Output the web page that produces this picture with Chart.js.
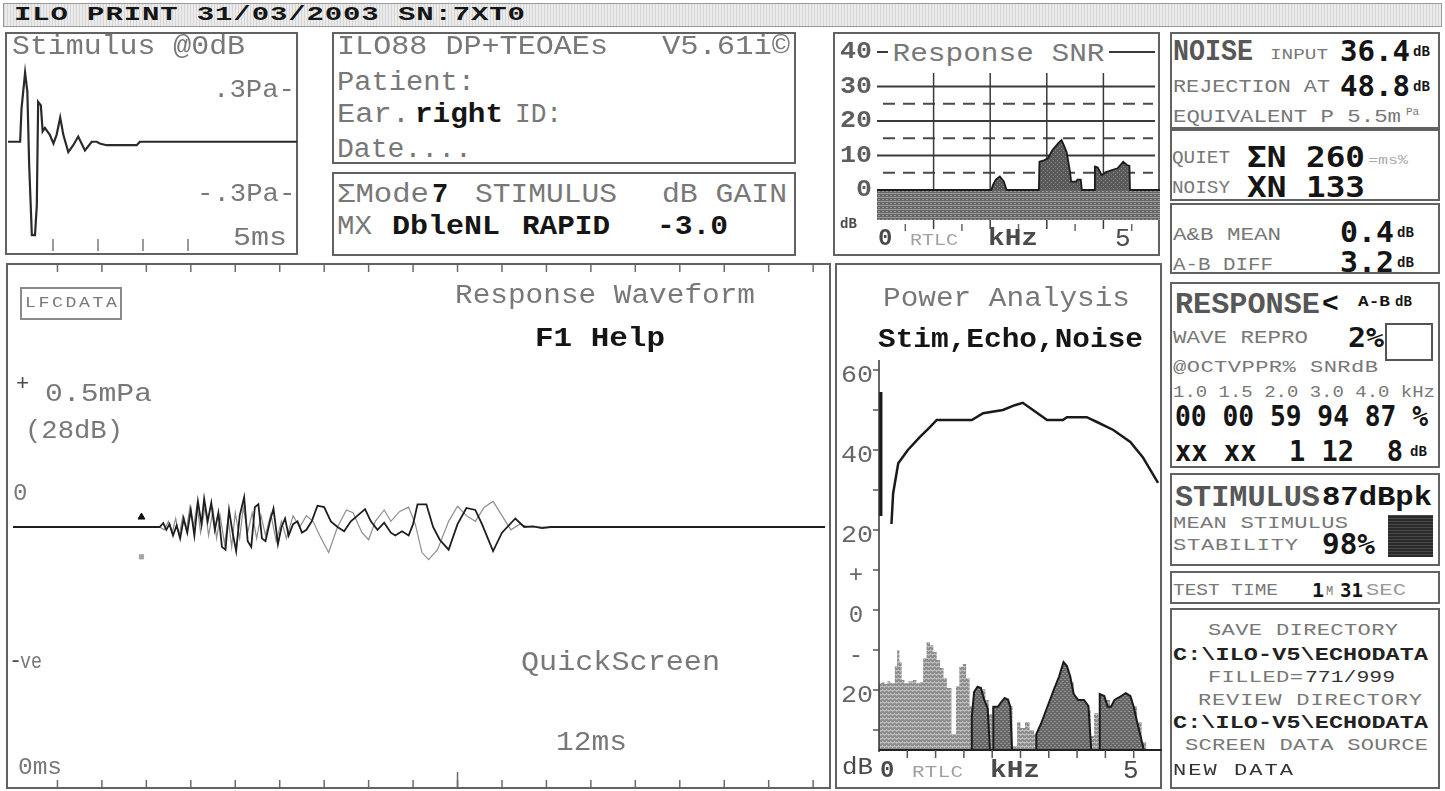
<!DOCTYPE html>
<html><head><meta charset="utf-8"><title>ILO88 TEOAE print</title>
<script src="https://cdn.jsdelivr.net/npm/chart.js@4.4.1/dist/chart.umd.min.js"></script>
<style>
html,body{margin:0;padding:0;background:#fff;}
#page{position:relative;width:1445px;height:791px;overflow:hidden;background:#fff;}
.box{position:absolute;border:2px solid #626262;box-sizing:border-box;}
.t{position:absolute;white-space:pre;line-height:1;transform-origin:0 50%;}
canvas{position:absolute;}
</style></head>
<body><div id="page"></div>
<script>
// ---------- stimulus waveform (ms, Pa) ----------
const stimWave = [[0,0],[0.27,0],[0.30,0.19],[0.38,0.40],[0.43,0.29],[0.47,-0.13],[0.53,-0.54],[0.60,-0.54],
  [0.64,-0.37],[0.67,0.23],[0.73,0.21],[0.77,0.06],[0.82,0.08],[0.93,0.04],[1.01,-0.01],[1.08,0.04],[1.16,0.14],
  [1.23,0.04],[1.34,-0.06],[1.45,-0.02],[1.56,0.03],[1.71,-0.05],[1.86,0],[1.97,0],[2.04,-0.01],[2.19,-0.02],
  [2.34,-0.02],[2.64,-0.02],[2.86,-0.02],[2.93,0],[6.5,0]];
const stimTickValues = [0.3, -0.3];
const stimTickLabels = ['.3Pa-', '-.3Pa-'];
const stimTimeTicksMs = [1, 2, 3, 4];

// ---------- response waveform, buffers A and B (ms, mPa) ----------
const traceA = [[0,0],[3.30,0],[3.38,0.014],[3.45,-0.01],[3.52,0.01],[3.60,-0.03],[3.68,0.005],[3.76,-0.04],
  [3.84,0.03],[3.92,-0.02],[4.00,0.06],[4.08,-0.03],[4.16,0.09],[4.24,0.01],[4.30,0.10],[4.38,0.02],[4.46,0.085],
  [4.54,-0.01],[4.62,0.05],[4.70,-0.07],[4.78,-0.08],[4.86,0.06],[4.94,-0.02],[5.02,-0.085],[5.10,0.04],
  [5.20,0.105],[5.28,-0.05],[5.36,-0.07],[5.44,0.07],[5.52,0.08],[5.60,-0.04],[5.68,-0.05],[5.78,0.02],
  [5.86,0.065],[5.96,-0.06],[6.04,0],[6.12,0.03],[6.20,-0.03],[6.30,0.01],[6.40,0.02],[6.50,-0.02],[6.60,-0.01],
  [6.72,0.02],[6.85,0.075],[7.00,0.07],[7.15,0.02],[7.30,0],[7.45,-0.015],[7.60,0.02],[7.75,0.04],[7.92,0.063],
  [8.05,0.02],[8.20,-0.01],[8.35,0.015],[8.50,-0.02],[8.60,-0.03],[8.75,-0.015],[8.90,-0.03],[9.00,0.01],
  [9.10,0.08],[9.30,0.08],[9.45,0],[9.60,-0.045],[9.80,-0.08],[10.00,0.01],[10.20,0.067],[10.40,0.06],
  [10.55,0.01],[10.80,-0.085],[11.00,-0.02],[11.30,0.03],[11.50,0],[11.70,0.002],[11.90,-0.004],[12.10,0],[18.3,0]];
const traceB = [[0,0],[3.30,0],[3.40,-0.01],[3.50,0.02],[3.58,-0.02],[3.66,0.03],[3.74,-0.03],[3.82,0.04],
  [3.90,-0.01],[3.98,0.07],[4.06,0],[4.14,0.08],[4.22,-0.02],[4.32,0.07],[4.40,-0.03],[4.50,0.06],[4.58,-0.04],
  [4.66,0.04],[4.76,-0.06],[4.84,0.03],[4.92,-0.07],[5.00,0.05],[5.10,-0.04],[5.18,0.07],[5.28,-0.02],
  [5.38,0.05],[5.48,-0.04],[5.58,0.04],[5.68,-0.03],[5.80,0.045],[5.92,-0.05],[6.04,0.02],[6.15,-0.04],
  [6.30,0.04],[6.45,0],[6.60,0.04],[6.75,0.02],[6.90,-0.03],[7.10,-0.09],[7.30,0],[7.50,0.06],[7.65,0.05],
  [7.85,-0.02],[8.00,-0.045],[8.15,0.02],[8.35,0.06],[8.50,0.02],[8.70,0.055],[8.90,0.07],[9.05,0.01],
  [9.20,-0.09],[9.35,-0.115],[9.55,-0.08],[9.80,0.02],[10.00,0.073],[10.20,0.04],[10.40,0.02],[10.60,0.07],
  [10.80,0.09],[11.00,0.04],[11.20,-0.01],[11.40,0.01],[11.60,0],[11.90,0],[18.3,0]];
const bufferMarks = [[2.89, 0.035], [2.89, -0.105]];
const respTimeTicksMs = [1,2,3,4,5,6,7,8,9,10,11,12,13,14,15,16,17,18];
const respScaleValues = [0.5, -0.5];
const respScaleLabels = ['+', '-'];

// ---------- response SNR by frequency (kHz, dB) ----------
const snrCurve = [[0,0],[2.02,0],[2.05,1.5],[2.10,3],[2.17,3.9],[2.24,2.5],[2.29,0],[2.86,0],[2.87,8.2],
  [2.95,8.6],[3.02,9.2],[3.10,11.6],[3.20,13.5],[3.26,14.5],[3.30,13],[3.35,11],[3.41,5.3],[3.43,2.4],
  [3.52,2.4],[3.54,3],[3.60,3],[3.62,0],[3.84,0],[3.85,6.8],[3.90,6.5],[3.97,4.3],[4.05,5.2],[4.15,5.8],
  [4.25,6.3],[4.35,8.2],[4.42,7.2],[4.46,7],[4.47,0],[5,0]];
const snrFloor = [[0,-8.7],[5,-8.7]];
const snrTickValues = [40, 30, 20, 10, 0];
const snrTickLabels = ['40', '30', '20', '10', '0'];
const snrSolidGrid = [10, 20, 30, 40];
const snrDashedGrid = [5, 15, 25];
const snrFreqGrid = [1, 2, 3, 4];
const halfKHzTicks = [0.5, 1.5, 2.5, 3.5, 4.5];

// ---------- power analysis: stimulus, echo and noise spectra (kHz, dB) ----------
const stimSpectrum = [[0.22,21.5],[0.25,29.2],[0.34,36.7],[0.51,40],[0.72,43.2],[0.90,45.7],[1.02,47.5],
  [1.64,47.5],[1.84,49.2],[2.19,50],[2.40,51.2],[2.54,51.8],[2.67,50.5],[2.97,47.5],[3.25,47.5],[3.32,48.2],
  [3.67,48.2],[3.85,47],[4.14,45],[4.44,42],[4.66,38.2],[4.93,31.8]];
const stimLowBand = [[0.03,54.5],[0.03,23.5]];
const echoSpectrum = [[0,-35],[1.64,-35],[1.64,-26.7],[1.68,-20.5],[1.74,-19.2],[1.80,-19.5],[1.86,-22.5],
  [1.92,-24.6],[1.96,-35],[2.02,-35],[2.02,-24.2],[2.10,-24.2],[2.16,-23],[2.22,-22],[2.28,-22.5],[2.32,-24.2],
  [2.35,-35],[2.78,-35],[2.78,-31],[2.86,-28.5],[2.94,-25.5],[3.02,-22.5],[3.10,-19.5],[3.18,-16.7],[3.26,-13],
  [3.32,-14],[3.38,-16.7],[3.44,-21],[3.52,-22.5],[3.62,-22.5],[3.70,-24],[3.75,-35],[3.90,-35],[3.90,-21],
  [3.98,-21.5],[4.04,-24.2],[4.10,-24.2],[4.16,-22.5],[4.28,-21.5],[4.36,-20.8],[4.44,-21.5],[4.50,-24.2],
  [4.56,-28],[4.62,-31.5],[4.68,-35],[5,-35]];
const noiseSpectrum = [[0,-18.3],[0.05,-18],[0.10,-18.5],[0.15,-17.8],[0.20,-18.3],[0.28,-14],[0.32,-10],
  [0.36,-13],[0.40,-17.5],[0.45,-18.3],[0.52,-17.8],[0.60,-17.5],[0.66,-18.3],[0.72,-18],[0.78,-12],[0.84,-8],
  [0.90,-8.8],[0.96,-10.5],[1.02,-12.5],[1.08,-14.5],[1.14,-17],[1.20,-19.5],[1.28,-31],[1.36,-19],[1.42,-14.2],
  [1.48,-13.5],[1.54,-17],[1.60,-24],[1.66,-20.5],[1.74,-19.2],[1.82,-19.8],[1.88,-22.5],[1.94,-26],[2.00,-24.5],
  [2.06,-24.5],[2.14,-23],[2.22,-22],[2.30,-24],[2.36,-34],[2.44,-28],[2.50,-29.5],[2.58,-28],[2.66,-30],
  [2.74,-31],[2.80,-30],[2.88,-28.5],[2.96,-25.5],[3.04,-23],[3.12,-21],[3.20,-18],[3.28,-15.5],[3.36,-18],
  [3.44,-22.5],[3.52,-24.5],[3.60,-23],[3.68,-25],[3.74,-31.5],[3.80,-25.8],[3.88,-27],[3.92,-22],[4.00,-22.5],
  [4.08,-24.5],[4.16,-23.5],[4.24,-22.5],[4.32,-22],[4.40,-22],[4.48,-24],[4.56,-28],[4.64,-33],[4.72,-35],[5,-35]];
const powerTickValues = [60, 40, 20, 10, 0, -10, -20];
const powerTickLabels = ['60', '40', '20', '+', '0', '-', '20'];
const powerMinorTicks = [60, 50, 40, 30, 20, 10, 0, -10, -20, -30];
const freqTicksKHz = [0.5, 1, 1.5, 2, 2.5, 3, 3.5, 4, 4.5];

// ---------- octave band results ----------
const octaveKHz = ['1.0', '1.5', '2.0', '3.0', '4.0'];
const bandReproPct = ['00', '00', '59', '94', '87'];
const bandSnrDb = ['xx', 'xx', '1', '12', '8'];

// ---------- page helpers ----------
const page = document.getElementById('page');
const TXT = "'Liberation Mono','DejaVu Sans Mono',monospace";
const NUM = "'DejaVu Sans Mono','Liberation Mono',monospace";
const GREY = '#787878', DARK = '#4a4a4a', INK = '#151515';
const xy = pts => pts.map(p => ({x: p[0], y: p[1]}));

function box(l, t, r, b, o = {}) {
  const d = document.createElement('div');
  d.className = 'box';
  Object.assign(d.style, {left: l + 'px', top: t + 'px', width: (r - l) + 'px', height: (b - t) + 'px'});
  if (o.bw !== undefined) d.style.borderWidth = o.bw + 'px';
  if (o.bc) d.style.borderColor = o.bc;
  if (o.bg) d.style.background = o.bg;
  page.appendChild(d);
  return d;
}

// text placed by its left edge (or right / centre) and vertical centre; widened to a given extent
function T(x, y, s, o = {}) {
  const el = document.createElement('div');
  el.className = 't';
  el.textContent = s;
  el.style.fontFamily = o.font || (o.num ? NUM : TXT);
  el.style.fontSize = (o.size || 26) + 'px';
  el.style.fontWeight = o.bold ? '700' : '400';
  el.style.color = o.color || GREY;
  const pad = o.bg ? 4 : 0;
  if (o.bg) { el.style.background = o.bg; el.style.padding = '2px ' + pad + 'px'; }
  page.appendChild(el);
  const n = [...s].length;
  const w0 = el.getBoundingClientRect().width - 2 * pad;
  let w = w0, sx = 1;
  if (o.w) {
    w = o.w;
    sx = Math.min(w / w0, o.maxScale || 1.3);
    if (n > 1) {
      const ls = (w / sx - w0) / (n - 1);
      el.style.letterSpacing = ls + 'px';
      el.style.marginRight = (-ls) + 'px';
    }
  }
  el.style.transform = 'translateY(-50%) scaleX(' + sx + ')';
  let left = x - pad * sx;
  if (o.align === 'right') left = x - w;
  else if (o.align === 'center') left = x - w / 2;
  el.style.left = left + 'px';
  el.style.top = y + 'px';
  return el;
}

function pattern(bg, fg, w, h, cells) {
  const c = document.createElement('canvas');
  c.width = w; c.height = h;
  const g = c.getContext('2d');
  g.fillStyle = bg; g.fillRect(0, 0, w, h);
  g.fillStyle = fg;
  cells.forEach(([a, b, cw, ch]) => g.fillRect(a, b, cw, ch));
  return g.createPattern(c, 'repeat');
}

// grid lines and tick marks drawn through each chart's own scales
function decor(cfg) {
  const draw = (chart, list) => {
    const ctx = chart.ctx, a = chart.chartArea;
    (list || []).forEach(g => {
      const sc = chart.scales[g.axis];
      ctx.save();
      ctx.strokeStyle = g.color; ctx.lineWidth = g.width; ctx.setLineDash(g.dash || []);
      g.values.forEach(v => {
        const p = sc.getPixelForValue(v);
        ctx.beginPath();
        if (g.axis === 'y') { ctx.moveTo(g.from ?? a.left, p); ctx.lineTo(g.to ?? a.right, p); }
        else { ctx.moveTo(p, g.from ?? a.top); ctx.lineTo(p, g.to ?? a.bottom); }
        ctx.stroke();
      });
      ctx.restore();
    });
  };
  return {
    id: 'decor',
    beforeDatasetsDraw(chart) { draw(chart, cfg.grid); },
    afterDatasetsDraw(chart) { draw(chart, cfg.marks); }
  };
}

function makeChart(l, t, w, h, pad, scales, datasets, deco) {
  const c = document.createElement('canvas');
  c.width = w; c.height = h;
  Object.assign(c.style, {left: l + 'px', top: t + 'px', width: w + 'px', height: h + 'px'});
  page.appendChild(c);
  return new Chart(c, {
    type: 'line',
    data: {datasets},
    options: {
      responsive: false, animation: false, devicePixelRatio: 1, events: [],
      layout: {padding: pad},
      plugins: {legend: {display: false}, tooltip: {enabled: false}},
      scales: {
        x: Object.assign({type: 'linear', display: false}, scales.x),
        y: Object.assign({type: 'linear', display: false}, scales.y)
      },
      elements: {point: {radius: 0}, line: {tension: 0}}
    },
    plugins: [decor(deco)]
  });
}

// ---------- frames ----------
box(3, 3, 1442, 27, {bw: 1, bc: '#9a9a9a',
  bg: 'repeating-linear-gradient(90deg,#d6d6d6 0 1px,#ebebeb 1px 3px)'});
box(5, 32, 298, 255);
box(332, 32, 796, 164);
box(332, 172, 796, 256);
box(833, 32, 1160, 256);
box(1170, 32, 1440, 129);
box(1170, 129, 1440, 201);
box(1170, 203, 1440, 274);
box(1170, 282, 1440, 468);
box(1170, 473, 1440, 566);
box(1170, 571, 1440, 604);
box(1170, 608, 1440, 789);
box(6, 263, 831, 789);
box(835, 263, 1162, 789);

// ---------- fills ----------
const patBand = pattern('#666', '#9a9a9a', 4, 4, [[0, 1, 4, 1], [1, 3, 2, 1]]);
const patSnr = pattern('#595959', '#878787', 4, 4, [[0, 0, 1, 1], [2, 2, 1, 1]]);
const patEcho = pattern('#666', '#939393', 4, 4, [[0, 0, 2, 1], [2, 2, 2, 1]]);
const patNoise = pattern('#8e8e8e', '#bcbcbc', 4, 4, [[0, 0, 1, 1], [2, 2, 1, 1], [0, 3, 4, 1]]);

// ---------- stimulus ----------
const stim = makeChart(8, 32, 289, 222, {left: 0, right: 0, top: 6, bottom: 8.5},
  {x: {min: 0, max: 289 / 45}, y: {min: -0.6, max: 0.6}},
  [{data: xy(stimWave), borderColor: '#2a2a2a', borderWidth: 2.2}],
  {marks: [{axis: 'x', values: stimTimeTicksMs, from: 219, to: 207, color: '#7a7a7a', width: 1.5}]});

// ---------- response SNR ----------
const snr = makeChart(833, 32, 327, 224, {left: 44, right: 0, top: 20, bottom: 31.5},
  {x: {min: 0, max: 5}, y: {min: -10, max: 40}},
  [{data: xy(snrCurve), borderColor: '#1c1c1c', borderWidth: 1.8, fill: 'origin', backgroundColor: patSnr},
   {data: xy(snrFloor), borderColor: 'rgba(0,0,0,0)', borderWidth: 0, fill: {value: 0}, backgroundColor: patBand}],
  {grid: [
    {axis: 'y', values: snrSolidGrid, color: '#3a3a3a', width: 2, to: 322},
    {axis: 'y', values: snrDashedGrid, color: '#4a4a4a', width: 2, dash: [12, 8], from: 50, to: 320},
    {axis: 'x', values: snrFreqGrid, from: 41, to: 197, color: '#3a3a3a', width: 1.5}],
   marks: [{axis: 'x', values: halfKHzTicks, from: 192, to: 199, color: '#666', width: 1.5}]});

// ---------- power analysis ----------
const power = makeChart(836, 263, 326, 525, {left: 43, right: 0, top: 97, bottom: 38},
  {x: {min: 0, max: 5}, y: {min: -35, max: 62.5}},
  [{data: xy(stimLowBand), borderColor: '#1a1a1a', borderWidth: 3.5},
   {data: xy(stimSpectrum), borderColor: '#1a1a1a', borderWidth: 2.5},
   {data: xy(echoSpectrum), borderColor: '#1a1a1a', borderWidth: 2, fill: 'start', backgroundColor: patEcho},
   {data: xy(noiseSpectrum), stepped: 'before', borderColor: 'rgba(0,0,0,0)', borderWidth: 0,
    fill: 'start', backgroundColor: patNoise}],
  {marks: [
    {axis: 'x', values: [0], from: 97, to: 489, color: '#333', width: 1.5},
    {axis: 'y', values: [-35], from: 43, to: 326, color: '#222', width: 2},
    {axis: 'y', values: powerMinorTicks, from: 37, to: 43, color: '#555', width: 1.5},
    {axis: 'x', values: freqTicksKHz, from: 487, to: 495, color: '#555', width: 1.5}]});

// ---------- response waveform ----------
const resp = makeChart(8, 263, 822, 525, {left: 0, right: 0, top: 8.4, bottom: 5.4},
  {x: {min: 0, max: 822 / 45}, y: {min: -0.9, max: 0.9}},
  [{data: xy([bufferMarks[0]]), showLine: false, pointRadius: 4, pointStyle: 'triangle',
    backgroundColor: '#111', borderColor: '#111'},
   {data: xy([bufferMarks[1]]), showLine: false, pointRadius: 3, pointStyle: 'rect',
    backgroundColor: '#a5a5a5', borderColor: '#a5a5a5'},
   {data: xy(traceA), borderColor: '#1e1e1e', borderWidth: 1.8},
   {data: xy(traceB), borderColor: '#8e8e8e', borderWidth: 1.2}],
  {marks: [
    {axis: 'x', values: respTimeTicksMs, from: 2, to: 9, color: '#6a6a6a', width: 1.5},
    {axis: 'x', values: respTimeTicksMs, from: 524, to: 517, color: '#6a6a6a', width: 1.5},
    {axis: 'x', values: [10], from: 524, to: 509, color: '#6a6a6a', width: 1.5}]});

// ---------- header ----------
T(14, 15, 'ILO PRINT 31/03/2003 SN:7XT0', {w: 511, size: 20, bold: true, color: INK, maxScale: 1.45});

// ---------- stimulus panel text ----------
T(12, 47, 'Stimulus @0dB', {w: 233, size: 27});
stimTickValues.forEach((v, i) => T(295, 32 + stim.scales.y.getPixelForValue(v), stimTickLabels[i],
  {w: stimTickLabels[i].length * 16.4, size: 26, align: 'right'}));
T(233, 238, '5ms', {w: 54, size: 26});

// ---------- identification panels ----------
T(337, 47, 'ILO88 DP+TEOAEs', {w: 271, size: 27});
T(662, 47, 'V5.61i©', {w: 128, size: 27});
T(337, 83, 'Patient:', {w: 138, size: 27});
T(337, 115, 'Ear.', {w: 73, size: 27});
T(415, 115, 'right', {w: 88, size: 27, bold: true, color: INK});
T(515, 115, 'ID:', {w: 47, size: 27});
T(337, 150, 'Date....', {w: 135, size: 27});
T(337, 195, 'ΣMode', {w: 92, size: 27});
T(432, 195, '7', {size: 27, bold: true, color: INK});
T(475, 195, 'STIMULUS', {w: 142, size: 27});
T(662, 195, 'dB GAIN', {w: 125, size: 27});
T(337, 227, 'MX', {w: 35, size: 27});
T(392, 227, 'DbleNL', {w: 108, size: 27, bold: true, color: INK});
T(522, 227, 'RAPID', {w: 88, size: 27, bold: true, color: INK});
T(657, 227, '-3.0', {w: 71, size: 27, bold: true, color: INK});

// ---------- SNR panel text ----------
snrTickValues.forEach((v, i) => T(872, 32 + snr.scales.y.getPixelForValue(v), snrTickLabels[i],
  {w: snrTickLabels[i].length * 16, size: 24, bold: true, color: '#5e5e5e', align: 'right'}));
T(893, 54, 'Response SNR', {w: 212, size: 26, bg: '#fff'});
T(840, 224, 'dB', {size: 14, bold: true, color: DARK});
T(878, 239, '0', {size: 24, bold: true, color: DARK});
T(910, 241, 'RTLC', {w: 48, size: 16, color: '#a0a0a0'});
T(988, 239, 'kHz', {w: 50, size: 24, bold: true, color: DARK});
T(1115, 239, '5', {size: 26, color: DARK});

// ---------- response waveform text ----------
box(20, 287, 122, 320, {bw: 2, bc: '#8a8a8a'});
T(25, 303, 'LFCDATA', {w: 92, size: 14});
T(455, 296, 'Response Waveform', {w: 300, size: 27});
T(535, 339, 'F1 Help', {w: 130, size: 27, bold: true, color: INK});
respScaleValues.forEach((v, i) => T(i ? 9 : 16, 263 + resp.scales.y.getPixelForValue(v) - (i ? 7 : 0),
  respScaleLabels[i], {size: 22, color: DARK}));
T(45, 394, '0.5mPa', {w: 107, size: 26});
T(25, 431, '(28dB)', {w: 98, size: 26});
T(13, 494, '0', {size: 24});
T(20, 663, 've', {w: 22, size: 22});
T(521, 663, 'QuickScreen', {w: 199, size: 27});
T(556, 743, '12ms', {w: 71, size: 27});
T(18, 768, '0ms', {w: 44, size: 24});

// ---------- power panel text ----------
T(883, 299, 'Power Analysis', {w: 247, size: 27});
T(878, 340, 'Stim,Echo,Noise', {w: 265, size: 27, bold: true, color: INK});
powerTickValues.forEach((v, i) => {
  const s = powerTickLabels[i], y = 263 + power.scales.y.getPixelForValue(v) + 6;
  if (s.length > 1) T(873, y, s, {w: 32, size: 24, color: '#666', align: 'right'});
  else T(856, y, s, {size: 24, color: '#666', align: 'center'});
});
T(842, 768, 'dB', {w: 31, size: 24, color: DARK});
T(880, 771, '0', {size: 24, bold: true, color: DARK});
T(912, 773, 'RTLC', {w: 51, size: 16, color: '#a0a0a0'});
T(990, 771, 'kHz', {w: 50, size: 24, bold: true, color: DARK});
T(1123, 771, '5', {size: 26, color: DARK});

// ---------- right column ----------
T(1173, 52, 'NOISE', {w: 80, size: 30, bold: true, color: '#575757'});
T(1270, 55, 'INPUT', {w: 58, size: 15});
T(1340, 52, '36.4', {w: 70, size: 28, bold: true, num: true, color: INK});
T(1413, 52, 'dB', {size: 14, bold: true, color: INK});
T(1173, 87, 'REJECTION AT', {w: 157, size: 18});
T(1340, 87, '48.8', {w: 70, size: 28, bold: true, num: true, color: INK});
T(1413, 87, 'dB', {size: 14, bold: true, color: INK});
T(1173, 117, 'EQUIVALENT P 5.5m', {w: 228, size: 18});
T(1406, 112, 'Pa', {size: 11});

T(1172, 158, 'QUIET', {w: 58, size: 18});
T(1247, 158, 'ΣN 260', {w: 118, size: 28, bold: true, num: true, color: INK});
T(1368, 160, '=ms%', {w: 40, size: 13, color: '#aaa'});
T(1172, 188, 'NOISY', {w: 58, size: 18});
T(1247, 188, 'XN 133', {w: 118, size: 28, bold: true, num: true, color: INK});

T(1173, 235, 'A&B MEAN', {w: 108, size: 18});
T(1340, 233, '0.4', {w: 54, size: 28, bold: true, num: true, color: INK});
T(1397, 233, 'dB', {size: 14, bold: true, color: INK});
T(1173, 265, 'A-B DIFF', {w: 100, size: 18});
T(1340, 263, '3.2', {w: 54, size: 28, bold: true, num: true, color: INK});
T(1397, 263, 'dB', {size: 14, bold: true, color: INK});

T(1175, 305, 'RESPONSE', {w: 145, size: 30, bold: true, color: '#575757'});
T(1322, 305, '<', {size: 28, bold: true, color: INK});
T(1358, 302, 'A-B', {w: 32, size: 14, bold: true, color: INK});
T(1395, 302, 'dB', {size: 14, bold: true, color: INK});
T(1173, 338, 'WAVE REPRO', {w: 135, size: 18});
T(1348, 338, '2%', {w: 36, size: 26, bold: true, num: true, color: INK});
box(1385, 323, 1433, 361, {bw: 2, bc: '#555', bg: '#fff'});
T(1173, 367, '@OCTVPPR% SNRdB', {w: 205, size: 17});
T(1173, 392, octaveKHz.join(' ') + ' kHz', {w: 262, size: 17});
T(1175, 417, bandReproPct.join(' ') + ' %', {w: 253, size: 28, bold: true, num: true, color: INK});
T(1175, 452, bandSnrDb.map(s => s.padStart(2, ' ')).join(' '), {w: 228, size: 28, bold: true, num: true, color: INK});
T(1410, 452, 'dB', {size: 14, bold: true, color: INK});

T(1175, 498, 'STIMULUS', {w: 145, size: 30, bold: true, color: '#575757'});
T(1322, 498, '87dBpk', {w: 110, size: 28, bold: true, color: INK});
T(1173, 523, 'MEAN STIMULUS', {w: 175, size: 17});
T(1173, 545, 'STABILITY', {w: 125, size: 17});
T(1322, 545, '98%', {w: 53, size: 28, bold: true, num: true, color: INK});
box(1388, 515, 1433, 557, {bw: 0, bg: 'repeating-linear-gradient(0deg,#2a2a2a 0 2px,#4a4a4a 2px 3px)'});

T(1173, 590, 'TEST TIME', {w: 105, size: 17});
T(1312, 590, '1', {size: 20, bold: true, num: true, color: INK});
T(1326, 592, 'M', {size: 12, color: GREY});
T(1340, 590, '31', {w: 23, size: 20, bold: true, num: true, color: INK});
T(1366, 590, 'SEC', {w: 40, size: 17, color: '#999'});

T(1303, 630, 'SAVE DIRECTORY', {w: 190, size: 17, align: 'center'});
T(1173, 655, 'C:\\ILO-V5\\ECHODATA', {w: 255, size: 18, color: '#222', bold: true});
T(1208, 677, 'FILLED=', {w: 95, size: 17});
T(1305, 677, '771/999', {w: 90, size: 17, color: '#333'});
T(1310, 700, 'REVIEW DIRECTORY', {w: 224, size: 17, align: 'center'});
T(1173, 723, 'C:\\ILO-V5\\ECHODATA', {w: 255, size: 18, color: '#222', bold: true});
T(1306, 745, 'SCREEN DATA SOURCE', {w: 243, size: 17, align: 'center'});
T(1173, 770, 'NEW DATA', {w: 120, size: 17, color: '#333'});
</script>
</body></html>
